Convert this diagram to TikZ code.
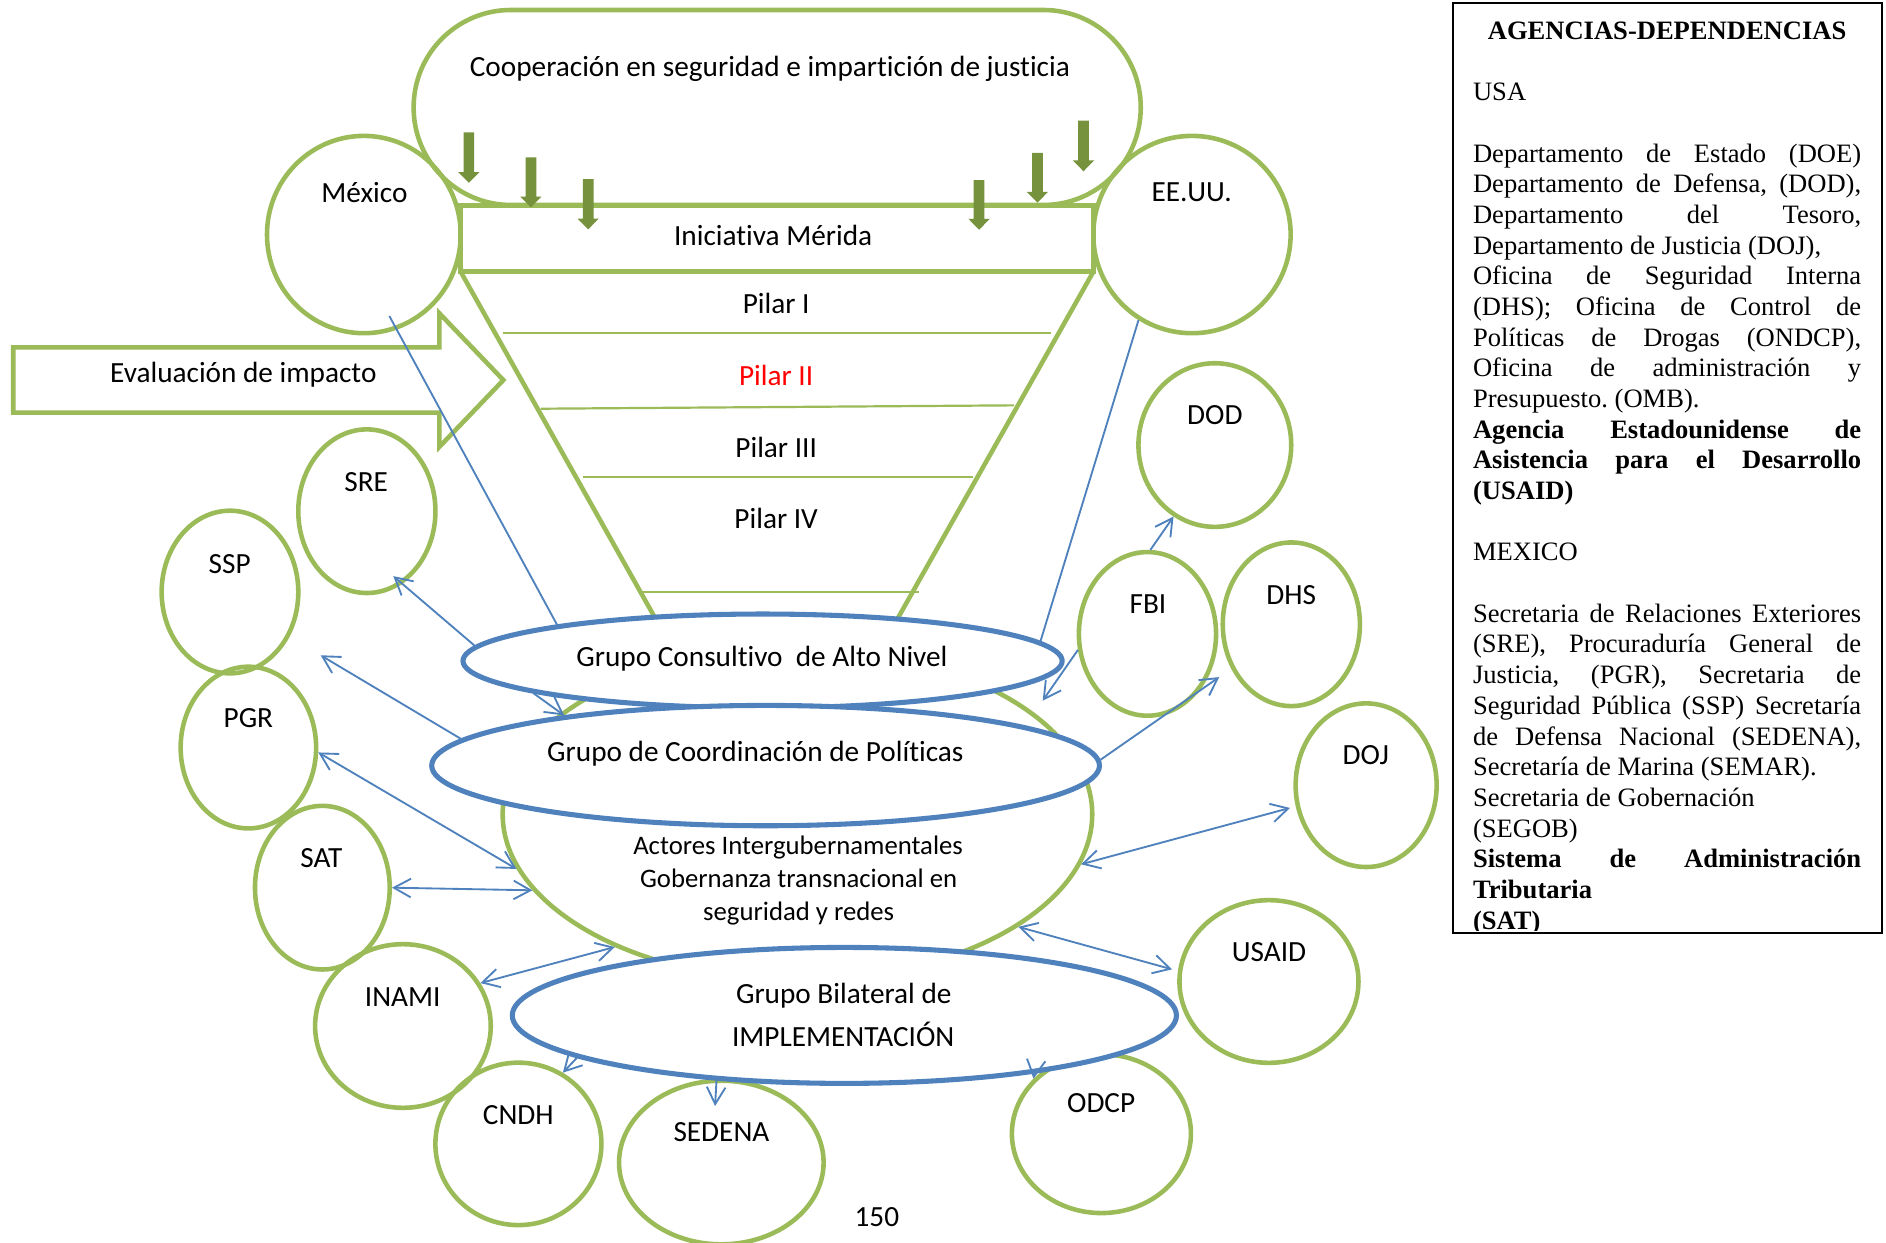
\documentclass[tikz,border=0pt]{standalone}
\usepackage{fontspec}
\setmainfont{Carlito}[Ligatures=NoCommon]
\newfontfamily\tnrfont{Liberation Serif}
\usetikzlibrary{arrows.meta,shapes.geometric}
\definecolor{gline}{HTML}{9BBB59}
\definecolor{garr}{HTML}{76923C}
\definecolor{bline}{HTML}{4F81BD}
\newcommand\jl[1]{\hbox to\hsize{#1}}
\newcommand\GArr[3]{\fill[garrow] (#1-4.45,#2) -- (#1+4.45,#2) -- (#1+4.45,#3-9) -- (#1+8.85,#3-9) -- (#1,#3) -- (#1-8.85,#3-9) -- (#1-4.45,#3-9) -- cycle;}
\begin{document}
\begin{tikzpicture}[x=0.025cm, y=-0.025cm,
 >={Straight Barb[length=10pt,width=11pt]},
 gthick/.style={draw=gline, line width=2.7pt},
 gthin/.style={draw=gline, line width=1.3pt},
 gell/.style 2 args={gthick, ellipse, minimum width=#1*0.05cm, minimum height=#2*0.05cm, inner sep=0pt},
 bell/.style 2 args={draw=bline, fill=white, line width=3pt, ellipse, minimum width=#1*0.05cm, minimum height=#2*0.05cm, inner sep=0pt},
 conn/.style={draw=bline, line width=1.1pt},
 lbl/.style={anchor=base, inner sep=0pt, font=\fontsize{17.3}{20.7}\selectfont},
 small/.style={font=\fontsize{15.8}{19}\selectfont},
 garrow/.style={fill=garr}]
\useasboundingbox (0,0) rectangle (1568,1033);

% evaluation block arrow
\draw[gthick, fill=white, line join=miter] (11,288.8) -- (365.3,288.8) -- (365.3,260.5) -- (418.5,316) -- (365.3,371.5) -- (365.3,343.1) -- (11,343.1) -- cycle;

% cooperation capsule and Merida box
\node[gthick, rounded corners=2.02cm, minimum width=604.5*0.025cm, minimum height=162.1*0.025cm, inner sep=0pt] (coop) at (646.15,89.35) {};
\node[gthick, minimum width=526*0.025cm, minimum height=54.9*0.025cm, inner sep=0pt, outer sep=0pt] (merida) at (646,198.45) {};

% funnel
\draw[gthick] (merida.south west) -- (547,518);
\draw[gthick] (merida.south east) -- (743.6,519);
\draw[gthin] (417.9,276.6) -- (873.8,276.6);
\draw[gthin] (449.4,339.8) -- (843,337);
\draw[gthin] (484.4,396.8) -- (809.1,396.8);
\draw[gthin] (533.3,491.9) -- (764.3,491.9);

% green down arrows
\GArr{389.8}{110}{152}
\GArr{441.4}{130.8}{172.4}
\GArr{489}{149}{190.7}
\GArr{814}{149.7}{191}
\GArr{862.5}{127}{168.5}
\GArr{900.8}{100.3}{142.4}

% circles
\node[gell={80.5}{82}] (mex) at (302.5,195) {};
\node[gell={82}{82}] (usa) at (991,195) {};
\node[gell={63.5}{68}] (dod) at (1010,370) {};
\node[gell={57}{68}] (fbi) at (954,527) {};
\node[gell={57}{68}] (dhs) at (1073.6,519) {};
\node[gell={58.6}{68}] (doj) at (1135.8,652.8) {};
\node[gell={74.4}{67.6}] (usaid) at (1055,816) {};
\node[gell={74.4}{66}] (odcp) at (915.7,942.5) {};
\node[gell={85}{68}] (sedena) at (599.7,966.5) {};
\node[gell={69}{67.5}] (cndh) at (431,951) {};
\node[gell={73}{68}] (inami) at (335,853) {};
\node[gell={56}{68}] (sat) at (268,738) {};
\node[gell={56.3}{67.2}] (pgr) at (206.5,621.5) {};
\node[gell={56.8}{67.6}] (ssp) at (191.2,492.2) {};
\node[gell={57}{68}] (sre) at (305,425) {};

% central ellipses
\node[gell={245}{138}] (act) at (663,677) {};
\node[bell={249}{39}] (gca) at (634,549.5) {};
\node[bell={277.5}{50}] (gcp) at (636.5,636.5) {};
\node[bell={276}{56.5}] (gbi) at (702,844.2) {};

% connectors
\coordinate (mexA) at (323.7,262.7);
\coordinate (sreC) at (327,479);
\coordinate (sspD) at (266.6,544.8);
\coordinate (sedI) at (594.5,919.5);
\coordinate (usaidK) at (974.4,805.9);
\coordinate (dojL) at (1072.5,671.7);
\coordinate (fbiN) at (866.9,582.5);
\coordinate (dhsO) at (1013.7,562.9);
\draw[conn] (mexA) -- (gca.170.75);
\draw[conn] (usa.-122.94) -- (gca.4.57);
\draw[conn,->] (gca.177.15) -- (sreC);
\draw[conn,->] (gcp.175.07) -- (sspD);
\draw[conn,<->] (pgr.-4.13) -- (act.-169.96);
\draw[conn,<->] (sat.0) -- (act.-164.57);
\draw[conn,<->] (inami.29.32) -- (act.-144.97);
\draw[conn,->] (gbi.-171.03) -- (cndh.58.47);
\draw[conn,->] (gbi.-153.13) -- (sedI);
\draw[conn,->] (gbi.-17.54) -- (odcp.141.18);
\draw[conn,<->] (act.-27.78) -- (usaidK);
\draw[conn,<->] (act.-10.25) -- (dojL);
\draw[conn,->] (fbi.88.8) -- (dod.-120.02);
\draw[conn,->] (fbi.-167.47) -- (fbiN);
\draw[conn,->] (gcp.1.03) -- (dhsO);
\draw[conn,->] (gca.-172.83) -- (gcp.166.82);

% labels
\node[lbl] (coopT) at (640.1,63.8) {Cooperación en seguridad e impartición de justicia};
\node[lbl] (meridaT) at (642.8,203.7) {Iniciativa Mérida};
\node[lbl] (mexT) at (303,168.5) {México};
\node[lbl] (usaT) at (990.7,167.7) {EE.UU.};
\node[lbl] (p1T) at (645.3,261) {Pilar I};
\node[lbl, text=red] (p2T) at (645.3,320.9) {Pilar II};
\node[lbl] (p3T) at (645.3,380.2) {Pilar III};
\node[lbl] (p4T) at (645.3,439.2) {Pilar IV};
\node[lbl] (evalT) at (202.3,317.9) {Evaluación de impacto};
\node[lbl] (sreT) at (304.4,408.8) {SRE};
\node[lbl] (sspT) at (191,477.2) {SSP};
\node[lbl] (pgrT) at (206.5,604.7) {PGR};
\node[lbl] (satT) at (267.2,721.1) {SAT};
\node[lbl] (inamiT) at (334.8,836.4) {INAMI};
\node[lbl] (cndhT) at (430.9,934.5) {CNDH};
\node[lbl] (sedT) at (599.8,949.2) {SEDENA};
\node[lbl] (odcpT) at (915.5,925) {ODCP};
\node[lbl] (usaidT) at (1055,799.5) {USAID};
\node[lbl] (dodT) at (1010,352.9) {DOD};
\node[lbl] (fbiT) at (954.4,509.8) {FBI};
\node[lbl] (dhsT) at (1073.5,502.6) {DHS};
\node[lbl] (dojT) at (1135.5,635.8) {DOJ};
\node[lbl] (gcaT) at (633.5,553.7) {Grupo Consultivo\ \ de Alto Nivel};
\node[lbl] (gcpT) at (628,632.7) {Grupo de Coordinación de Políticas};
\node[lbl, small] (act1T) at (663.5,710.8) {Actores Intergubernamentales};
\node[lbl, small] (act2T) at (664,737.5) {Gobernanza transnacional en};
\node[lbl, small] (act3T) at (664,764.9) {seguridad y redes};
\node[lbl] (gbi1T) at (701.5,834.7) {Grupo Bilateral de};
\node[lbl] (gbi2T) at (701,870.2) {IMPLEMENTACIÓN};
\node[lbl] (pageT) at (729,1019.8) {150};

% agencies box
\begin{scope}
\clip (1208.8,3.8) rectangle (1563.4,773.5);
\node[anchor=base west, inner sep=0pt, font=\tnrfont\fontsize{15.7}{18.14}\selectfont\frenchspacing] (agText) at (1224.4,32.7) {\vtop{\hsize=8.065cm \baselineskip=18.14pt
\hbox to\hsize{\hfil\bfseries AGENCIAS-DEPENDENCIAS\hfil}
\hbox{}
\hbox{USA}
\hbox{}
\jl{Departamento de Estado (DOE)}
\jl{Departamento de Defensa, (DOD),}
\jl{Departamento del Tesoro,}
\hbox{Departamento de Justicia (DOJ),}
\jl{Oficina de Seguridad Interna}
\jl{(DHS); Oficina de Control de}
\jl{Políticas de Drogas (ONDCP),}
\jl{Oficina de administración y}
\hbox{Presupuesto. (OMB).}
\jl{\bfseries Agencia Estadounidense de}
\jl{\bfseries Asistencia para el Desarrollo}
\hbox{\bfseries (USAID)}
\hbox{}
\hbox{MEXICO}
\hbox{}
\jl{Secretaria de Relaciones Exteriores}
\jl{(SRE), Procuraduría General de}
\jl{Justicia, (PGR), Secretaria de}
\jl{Seguridad Pública (SSP) Secretaría}
\jl{de Defensa Nacional (SEDENA),}
\hbox{Secretaría de Marina (SEMAR).}
\hbox{Secretaria de Gobernación}
\hbox{(SEGOB)}
\jl{\bfseries Sistema de Administración}
\hbox{\bfseries Tributaria}
\hbox{\bfseries (SAT)}
}};
\end{scope}
\node[draw=black, line width=1.2pt, minimum width=356.6*0.025cm, minimum height=772.6*0.025cm, inner sep=0pt, outer sep=0pt] (agbox) at (1386.1,389.1) {};
\end{tikzpicture}
\end{document}
